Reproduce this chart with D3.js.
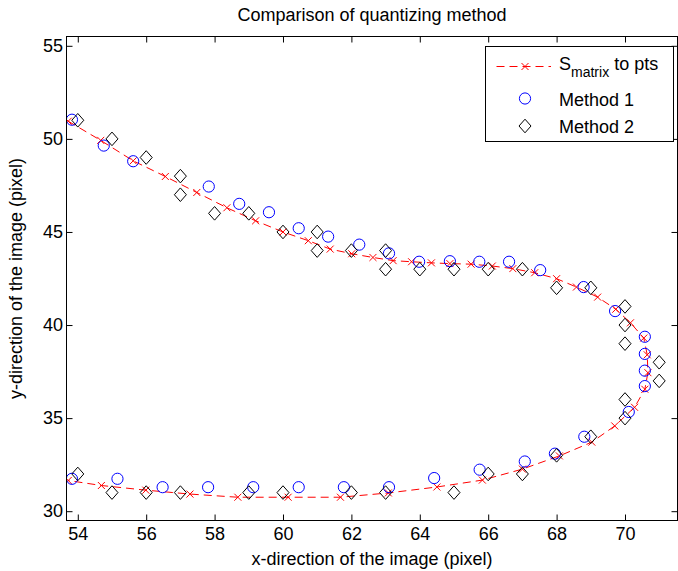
<!DOCTYPE html>
<html>
<head>
<meta charset="utf-8">
<script src="https://cdn.jsdelivr.net/npm/d3@7"></script>
<style>
  html, body { margin: 0; padding: 0; background: #fff; }
  svg { display: block; }
  text { font-family: "Liberation Sans", Arial, Helvetica, sans-serif; fill: #000; }
</style>
</head>
<body>
<svg id="chart" width="678" height="571"></svg>
<script>
// S_matrix-to-points curve (sub-pixel positions)
const smatX = [53.72, 54.67, 55.62, 56.56, 57.48, 58.36, 59.20, 60.00, 60.74, 61.38, 62.01, 62.63, 63.22, 63.76, 64.34, 64.88, 65.50, 66.12, 66.72, 67.36, 68.00, 68.58, 69.20, 69.73, 70.16, 70.55, 70.65, 70.67, 70.58, 70.28, 69.70, 69.03, 68.08, 67.00, 65.83, 64.50, 63.08, 61.68, 60.15, 58.68, 57.28, 55.99, 54.69, 53.72];
const smatY = [50.95, 49.92, 48.82, 47.98, 47.12, 46.30, 45.60, 45.00, 44.53, 44.08, 43.83, 43.63, 43.46, 43.40, 43.34, 43.30, 43.27, 43.17, 43.03, 42.81, 42.49, 42.04, 41.50, 40.85, 40.12, 39.30, 38.40, 37.44, 36.55, 35.58, 34.58, 33.71, 32.97, 32.26, 31.67, 31.30, 30.98, 30.75, 30.75, 30.75, 30.92, 31.13, 31.38, 31.65];

// Method 1 points
const m1X = [53.83, 54.76, 55.62, 57.83, 58.72, 59.59, 60.46, 61.32, 62.23, 63.10, 63.98, 64.88, 65.74, 66.61, 67.52, 68.79, 69.71, 70.58, 70.58, 70.58, 70.58, 70.11, 68.81, 67.95, 67.07, 65.75, 64.42, 63.10, 61.78, 60.46, 59.13, 57.81, 56.48, 55.16, 53.83];
const m1Y = [51.03, 49.64, 48.80, 47.44, 46.51, 46.06, 45.20, 44.75, 44.32, 43.85, 43.40, 43.43, 43.40, 43.40, 42.95, 42.04, 40.75, 39.37, 38.45, 37.55, 36.72, 35.33, 34.00, 33.09, 32.67, 32.23, 31.78, 31.29, 31.29, 31.29, 31.29, 31.29, 31.29, 31.74, 31.74];

// Method 2 points (integer pixel grid)
const m2X = [54, 55, 56, 57, 57, 58, 59, 60, 61, 61, 62, 63, 63, 64, 65, 66, 67, 68, 69, 70, 70, 70, 71, 71, 70, 70, 69, 68, 67, 66, 65, 63, 62, 60, 59, 57, 56, 55, 54];
const m2Y = [51, 50, 49, 48, 47, 46, 46, 45, 45, 44, 44, 44, 43, 43, 43, 43, 43, 42, 42, 41, 40, 39, 38, 37, 36, 35, 34, 33, 32, 32, 31, 31, 31, 31, 31, 31, 31, 31, 32];

const xTicks = [54, 56, 58, 60, 62, 64, 66, 68, 70];
const yTicks = [30, 35, 40, 45, 50, 55];

const titleText = "Comparison of quantizing method";
const xLabelText = "x-direction of the image (pixel)";
const yLabelText = "y-direction of the image (pixel)";
const legendNames = ["Method 1", "Method 2"];

const svg = d3.select("#chart");
const L = 66.5, R = 677.5, T = 36.5, B = 520.5;

const x = d3.scaleLinear().domain([53.67, 71.535]).range([L, R]);
const y = d3.scaleLinear().domain([29.5, 55.5]).range([B, T]);

svg.append("rect").attr("width", 678).attr("height", 571).attr("fill", "#fff");

svg.append("defs").append("clipPath").attr("id", "plotClip")
  .append("rect").attr("x", L).attr("y", T).attr("width", R - L).attr("height", B - T);

// axes with inward ticks on all four sides
const fontSize = 18;
const gB = svg.append("g").attr("transform", `translate(0,${B})`)
  .call(d3.axisBottom(x).tickValues(xTicks).tickSize(-6).tickPadding(6.5).tickFormat(d3.format("d")));
const gT = svg.append("g").attr("transform", `translate(0,${T})`)
  .call(d3.axisTop(x).tickValues(xTicks).tickSize(-6).tickFormat(""));
const gL = svg.append("g").attr("transform", `translate(${L},0)`)
  .call(d3.axisLeft(y).tickValues(yTicks).tickSize(-6).tickPadding(3.5).tickFormat(d3.format("d")));
const gR = svg.append("g").attr("transform", `translate(${R},0)`)
  .call(d3.axisRight(y).tickValues(yTicks).tickSize(-6).tickFormat(""));
[gB, gT, gL, gR].forEach(g => {
  g.select(".domain").remove();
  g.selectAll(".tick line").attr("stroke", "#000").attr("stroke-width", 1);
  g.selectAll(".tick text").attr("font-size", fontSize)
    .attr("font-family", "\"Liberation Sans\", Arial, Helvetica, sans-serif").attr("fill", "#000");
});

const plot = svg.append("g").attr("clip-path", "url(#plotClip)");

// S_matrix curve
const pts = smatX.map((v, i) => [v, smatY[i]]);
plot.append("path")
  .attr("d", d3.line().x(d => x(d[0])).y(d => y(d[1]))(pts))
  .attr("fill", "none").attr("stroke", "#ff0000").attr("stroke-width", 1)
  .attr("stroke-dasharray", "8,5");
const cross = "M-3.5,-3.5L3.5,3.5M-3.5,3.5L3.5,-3.5";
plot.selectAll("path.xm").data(pts).join("path").attr("class", "xm")
  .attr("transform", d => `translate(${x(d[0])},${y(d[1])})`)
  .attr("d", cross).attr("fill", "none").attr("stroke", "#ff0000").attr("stroke-width", 1);

// Method 1 circles
plot.selectAll("circle.m1").data(m1X.map((v, i) => [v, m1Y[i]])).join("circle").attr("class", "m1")
  .attr("cx", d => x(d[0])).attr("cy", d => y(d[1])).attr("r", 5.6)
  .attr("fill", "none").attr("stroke", "#0000ff").attr("stroke-width", 1);

// Method 2 diamonds
const diamond = "M0,-6.8L6,0L0,6.8L-6,0Z";
plot.selectAll("path.m2").data(m2X.map((v, i) => [v, m2Y[i]])).join("path").attr("class", "m2")
  .attr("transform", d => `translate(${x(d[0])},${y(d[1])})`)
  .attr("d", diamond).attr("fill", "none").attr("stroke", "#000").attr("stroke-width", 1);

// axes box
svg.append("rect").attr("x", L).attr("y", T).attr("width", R - L).attr("height", B - T)
  .attr("fill", "none").attr("stroke", "#000").attr("stroke-width", 1);

// title and axis labels
svg.append("text").attr("x", (L + R) / 2).attr("y", 20.5).attr("text-anchor", "middle")
  .attr("font-size", fontSize).text(titleText);
svg.append("text").attr("x", (L + R) / 2).attr("y", 565).attr("text-anchor", "middle")
  .attr("font-size", fontSize).text(xLabelText);
svg.append("text").attr("transform", `translate(21.5,${(T + B) / 2}) rotate(-90)`)
  .attr("text-anchor", "middle").attr("font-size", fontSize).text(yLabelText);

// legend
const lg = svg.append("g");
lg.append("rect").attr("x", 485.5).attr("y", 46.5).attr("width", 188).attr("height", 95)
  .attr("fill", "#fff").attr("stroke", "#000").attr("stroke-width", 1);
lg.append("line").attr("x1", 496.5).attr("x2", 551).attr("y1", 66.5).attr("y2", 66.5)
  .attr("stroke", "#ff0000").attr("stroke-width", 1).attr("stroke-dasharray", "8,5");
lg.append("path").attr("transform", "translate(525,66.5)").attr("d", cross)
  .attr("fill", "none").attr("stroke", "#ff0000");
lg.append("circle").attr("cx", 525).attr("cy", 98.5).attr("r", 5.6)
  .attr("fill", "none").attr("stroke", "#0000ff");
lg.append("path").attr("transform", "translate(525,126)").attr("d", diamond)
  .attr("fill", "none").attr("stroke", "#000");
const t1 = lg.append("text").attr("x", 559).attr("y", 70).attr("font-size", fontSize);
t1.append("tspan").text("S");
t1.append("tspan").attr("font-size", 14).attr("dy", 6.5).text("matrix");
t1.append("tspan").attr("dy", -6.5).text(" to pts");
lg.selectAll("text.ln").data(legendNames).join("text").attr("class", "ln")
  .attr("x", 559).attr("y", (d, i) => 106 + i * 26.7).attr("font-size", fontSize).text(d => d);
</script>
</body>
</html>
